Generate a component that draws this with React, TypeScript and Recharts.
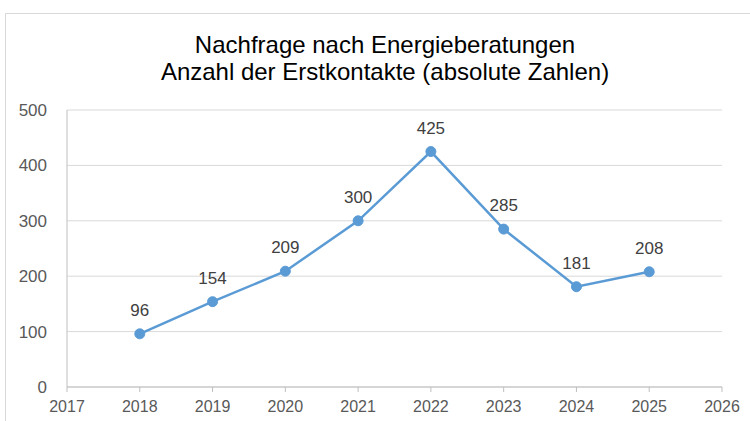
import { LineChart, Line, XAxis, YAxis, CartesianGrid, LabelList } from "recharts";

const years = [2018, 2019, 2020, 2021, 2022, 2023, 2024, 2025];
const contacts = [96, 154, 209, 300, 425, 285, 181, 208];
const xTicks = [2017, 2018, 2019, 2020, 2021, 2022, 2023, 2024, 2025, 2026];
const yTicks = [0, 100, 200, 300, 400, 500];
const titleLines = ["Nachfrage nach Energieberatungen", "Anzahl der Erstkontakte (absolute Zahlen)"];

const data = years.map((year, i) => ({ year, v: contacts[i] }));

const font = "'Liberation Sans', Arial, sans-serif";

export default function App() {
  return (
    <div style={{ position: "absolute", left: 0, top: 0, width: 750, height: 421, overflow: "hidden", background: "#fff", fontFamily: font }}>
      <div style={{ position: "absolute", left: 5, top: 13, width: 800, height: 500, border: "1px solid #d9d9d9" }} />
      <div style={{ position: "absolute", left: 0, top: 31, width: 770, textAlign: "center", fontSize: 24, lineHeight: "27px", color: "#000" }}>
        {titleLines.map((t) => (
          <div key={t}>{t}</div>
        ))}
      </div>
      <div style={{ position: "absolute", left: 0, top: 0 }}>
        <LineChart width={750} height={421} data={data} margin={{ top: 110, right: 28, left: 0, bottom: 4 }}>
          <CartesianGrid stroke="#d9d9d9" vertical={false} />
          <XAxis
            dataKey="year"
            type="number"
            domain={[2017, 2026]}
            ticks={xTicks}
            interval={0}
            height={30}
            stroke="#bfbfbf"
            tickSize={5}
            tickMargin={9}
            tick={{ fill: "#595959", fontSize: 16, fontFamily: font }}
          />
          <YAxis
            domain={[0, 500]}
            ticks={yTicks}
            width={67}
            stroke="#bfbfbf"
            tickLine={false}
            tickMargin={14}
            tick={{ fill: "#595959", fontSize: 17, fontFamily: font }}
          />
          <Line
            type="linear"
            dataKey="v"
            stroke="#5b9bd5"
            strokeWidth={2.5}
            dot={{ r: 5, fill: "#5b9bd5", stroke: "#5b9bd5", strokeWidth: 1 }}
            isAnimationActive={false}
          >
            <LabelList dataKey="v" position="top" offset={18} fill="#404040" fontSize={17} fontFamily={font} />
          </Line>
        </LineChart>
      </div>
    </div>
  );
}
